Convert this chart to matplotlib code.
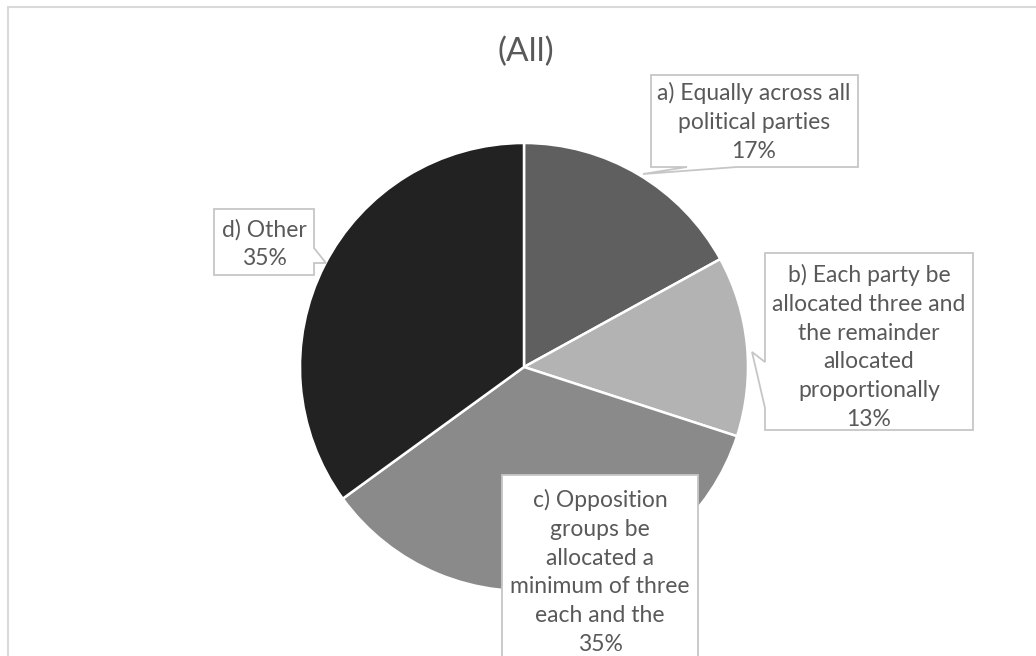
import matplotlib
matplotlib.use("Agg")
import matplotlib.pyplot as plt
from matplotlib.patches import Polygon, Rectangle

# data
labels = [
    "a) Equally across all\npolitical parties",
    "b) Each party be\nallocated three and\nthe remainder\nallocated\nproportionally",
    "c) Opposition\ngroups be\nallocated a\nminimum of three\neach and the",
    "d) Other",
]
values = [17, 13, 35, 35]
colors = ["#5f5f5f", "#b3b3b3", "#8a8a8a", "#222222"]
title = "(All)"

W, H = 1036, 656
TEXT = "#595959"
EDGE = "#c6c6c6"
plt.rcParams["font.family"] = ["Lato", "DejaVu Sans"]


def Y(y):
    # pixel row (from top) -> data y
    return H - y


fig = plt.figure(figsize=(W / 100, H / 100), dpi=100)
ax = fig.add_axes([0, 0, 1, 1])

ax.pie(values, colors=colors, startangle=90, counterclock=False,
       center=(524, Y(367)), radius=224,
       wedgeprops=dict(edgecolor="white", linewidth=1.8))
ax.set_xlim(0, W)
ax.set_ylim(0, H)
ax.set_aspect("equal")
ax.axis("off")

# chart area border (cropped on right and bottom)
ax.add_patch(Rectangle((8, -20), W + 50, Y(7) + 20, fill=False,
                       edgecolor="#d9d9d9", linewidth=1.5, clip_on=True))

ax.text(526, Y(52), title, ha="center", va="center", fontsize=24, color=TEXT)

# callout boxes: outline vertices in pixel coords (from top)
boxes = [
    [(651, 75), (858, 75), (858, 167), (737, 167), (643, 174), (687, 167), (651, 167)],
    [(765, 253), (973, 253), (973, 430), (765, 430), (765, 408), (752, 352), (765, 362)],
    [(502, 475), (698, 475), (698, 670), (502, 670)],
    [(214, 209), (314, 209), (314, 248), (326, 263), (314, 263), (314, 275), (214, 275)],
]
text_pos = [(754, 122), (869, 347), (600, 572), (264, 244)]

for i, (lab, v) in enumerate(zip(labels, values)):
    pts = [(x, Y(y)) for x, y in boxes[i]]
    ax.add_patch(Polygon(pts, closed=True, facecolor="white", edgecolor=EDGE,
                         linewidth=1.3, zorder=3))
    tx, ty = text_pos[i]
    ax.text(tx, Y(ty), f"{lab}\n{v}%", ha="center", va="center",
            fontsize=16.5, color=TEXT, linespacing=1.45, zorder=4)

fig.savefig("out.png", dpi=100)
